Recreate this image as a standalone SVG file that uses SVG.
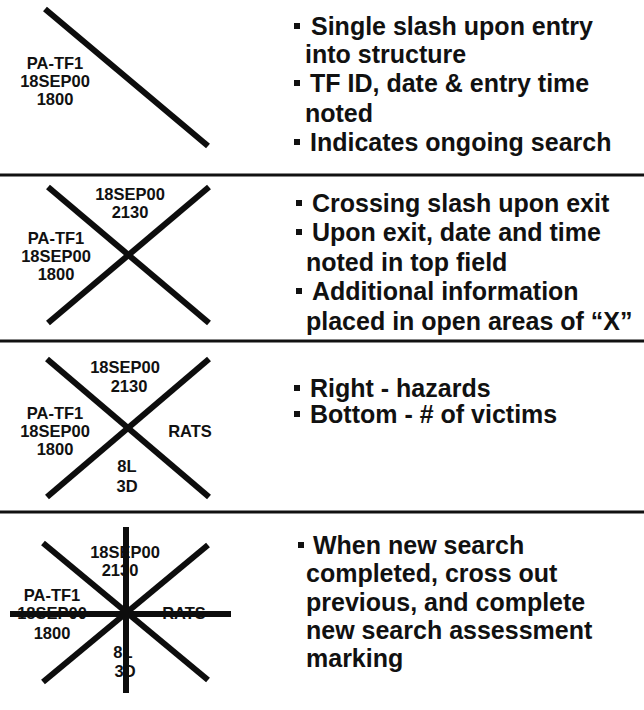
<svg xmlns="http://www.w3.org/2000/svg" width="644" height="710" viewBox="0 0 644 710">
<style>
.mk{stroke:#0d0d0d;stroke-width:6;fill:none}
.sep{stroke:#111;stroke-width:3}
.lab{font-family:"Liberation Sans",Arial,sans-serif;font-weight:bold;font-size:16.5px;fill:#111;text-anchor:middle}
.txt{font-family:"Liberation Sans",Arial,sans-serif;font-weight:bold;font-size:25px;fill:#111}
.bul{fill:#111}
</style>
<rect width="644" height="710" fill="#fff"/>
<g id="separators">
<line class="sep" x1="0" y1="175" x2="644" y2="175"/>
<line class="sep" x1="0" y1="341" x2="644" y2="341"/>
<line class="sep" x1="0" y1="512" x2="644" y2="512"/>
</g>
<g id="panel1">
<line class="mk" x1="45" y1="9" x2="208" y2="146"/>
<text class="lab" x="55" y="69">PA-TF1</text>
<text class="lab" x="55" y="87">18SEP00</text>
<text class="lab" x="55" y="105">1800</text>
<rect class="bul" x="294" y="23" width="6" height="6"/>
<text class="txt" x="311" y="35">Single slash upon entry</text>
<text class="txt" x="305" y="63">into structure</text>
<rect class="bul" x="294" y="80" width="6" height="6"/>
<text class="txt" x="310" y="92">TF ID, date &amp; entry time</text>
<text class="txt" x="305" y="122">noted</text>
<rect class="bul" x="294" y="139" width="6" height="6"/>
<text class="txt" x="310" y="151">Indicates ongoing search</text>
</g>
<g id="panel2">
<line class="mk" x1="48" y1="187" x2="209" y2="323"/>
<line class="mk" x1="209" y1="187" x2="48" y2="323"/>
<text class="lab" x="130" y="200">18SEP00</text>
<text class="lab" x="130" y="218">2130</text>
<text class="lab" x="56" y="244">PA-TF1</text>
<text class="lab" x="56" y="262">18SEP00</text>
<text class="lab" x="56" y="280">1800</text>
<rect class="bul" x="296" y="200" width="6" height="6"/>
<text class="txt" x="312" y="212">Crossing slash upon exit</text>
<rect class="bul" x="296" y="229" width="6" height="6"/>
<text class="txt" x="312" y="241">Upon exit, date and time</text>
<text class="txt" x="306" y="271">noted in top field</text>
<rect class="bul" x="296" y="288" width="6" height="6"/>
<text class="txt" x="312" y="300">Additional information</text>
<text class="txt" x="306" y="330">placed in open areas of “X”</text>
</g>
<g id="panel3">
<line class="mk" x1="47" y1="359" x2="209" y2="497"/>
<line class="mk" x1="209" y1="359" x2="47" y2="497"/>
<text class="lab" x="125" y="373">18SEP00</text>
<text class="lab" x="129" y="392">2130</text>
<text class="lab" x="55" y="419">PA-TF1</text>
<text class="lab" x="55" y="437">18SEP00</text>
<text class="lab" x="55" y="455">1800</text>
<text class="lab" x="190" y="437">RATS</text>
<text class="lab" x="127" y="472">8L</text>
<text class="lab" x="127" y="492">3D</text>
<rect class="bul" x="294" y="385" width="6" height="6"/>
<text class="txt" x="310" y="397">Right - hazards</text>
<rect class="bul" x="294" y="411" width="6" height="6"/>
<text class="txt" x="310" y="423">Bottom - # of victims</text>
</g>
<g id="panel4">
<text class="lab" x="125" y="558">18SEP00</text>
<text class="lab" x="120" y="576">2130</text>
<text class="lab" x="52" y="601">PA-TF1</text>
<text class="lab" x="52" y="619">18SEP00</text>
<text class="lab" x="52" y="639">1800</text>
<text class="lab" x="184" y="619">RATS</text>
<text class="lab" x="123" y="658">8L</text>
<text class="lab" x="125" y="677">3D</text>
<line class="mk" x1="43" y1="543" x2="208" y2="680"/>
<line class="mk" x1="208" y1="545" x2="43" y2="682"/>
<line class="mk" x1="126" y1="527" x2="126" y2="693"/>
<line class="mk" x1="10" y1="614" x2="231" y2="614"/>
<rect class="bul" x="298" y="542" width="6" height="6"/>
<text class="txt" x="313" y="554">When new search</text>
<text class="txt" x="306" y="582">completed, cross out</text>
<text class="txt" x="306" y="611">previous, and complete</text>
<text class="txt" x="306" y="639">new search assessment</text>
<text class="txt" x="306" y="667">marking</text>
</g>
</svg>
